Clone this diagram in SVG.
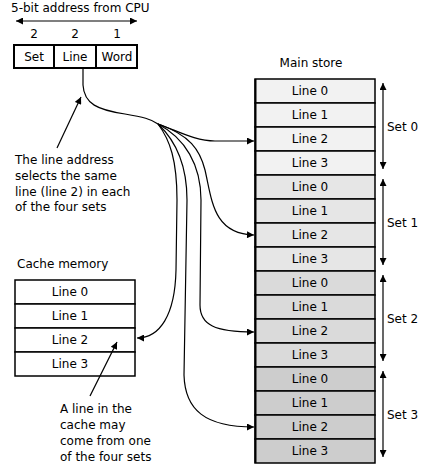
<svg xmlns="http://www.w3.org/2000/svg" width="438" height="475" viewBox="0 0 438 475">
<style>
text{font-family:"DejaVu Sans","Liberation Sans",sans-serif;font-size:12px;fill:#000}
.c{text-anchor:middle}
.cell{stroke:#000;stroke-width:1.5}
.s0{fill:#f2f2f2}.s1{fill:#e6e6e6}.s2{fill:#dadada}.s3{fill:#cdcdcd}
.ln{fill:none;stroke:#000;stroke-width:1.2}
</style>
<defs>
<marker id="ah" viewBox="0 0 10 10" refX="10" refY="5" markerWidth="9" markerHeight="7" markerUnits="userSpaceOnUse" orient="auto-start-reverse">
<path d="M0,0 L10,5 L0,10 Z" fill="#000"/>
</marker>
</defs>
<rect width="438" height="475" fill="#fff"/>

<g id="cpu-address">
<text x="11" y="12">5-bit address from CPU</text>
<line x1="16" y1="21" x2="137" y2="21" stroke="#000" stroke-width="1.2" marker-start="url(#ah)" marker-end="url(#ah)"/>
<text class="c" x="34" y="38">2</text>
<text class="c" x="75" y="38">2</text>
<text class="c" x="117" y="38">1</text>
<rect x="14" y="45" width="123" height="23" fill="#fff" stroke="#000" stroke-width="2"/>
<line x1="54" y1="45" x2="54" y2="68" stroke="#000" stroke-width="2"/>
<line x1="96" y1="45" x2="96" y2="68" stroke="#000" stroke-width="2"/>
<text class="c" x="34" y="61">Set</text>
<text class="c" x="75" y="61">Line</text>
<text class="c" x="117" y="61">Word</text>
</g>

<g id="note-line-address">
<text x="15" y="164">The line address</text>
<text x="15" y="180">selects the same</text>
<text x="15" y="196">line (line 2) in each</text>
<text x="15" y="211">of the four sets</text>
</g>

<g id="cache-memory">
<text x="17" y="268">Cache memory</text>
<rect class="cell" x="15" y="280" width="120" height="24" fill="#fff"/>
<rect class="cell" x="15" y="304" width="120" height="24" fill="#fff"/>
<rect class="cell" x="15" y="328" width="120" height="24" fill="#fff"/>
<rect class="cell" x="15" y="352" width="120" height="24" fill="#fff"/>
<text class="c" x="70" y="296">Line 0</text>
<text class="c" x="70" y="320">Line 1</text>
<text class="c" x="70" y="344">Line 2</text>
<text class="c" x="70" y="368">Line 3</text>
</g>

<g id="note-cache">
<text x="60" y="413">A line in the</text>
<text x="60" y="429">cache may</text>
<text x="60" y="445">come from one</text>
<text x="60" y="461">of the four sets</text>
</g>

<g id="main-store">
<text class="c" x="311" y="67">Main store</text>
<rect class="cell s0" x="255" y="79" width="120" height="24"/>
<rect class="cell s0" x="255" y="103" width="120" height="24"/>
<rect class="cell s0" x="255" y="127" width="120" height="24"/>
<rect class="cell s0" x="255" y="151" width="120" height="24"/>
<rect class="cell s1" x="255" y="175" width="120" height="24"/>
<rect class="cell s1" x="255" y="199" width="120" height="24"/>
<rect class="cell s1" x="255" y="223" width="120" height="24"/>
<rect class="cell s1" x="255" y="247" width="120" height="24"/>
<rect class="cell s2" x="255" y="271" width="120" height="24"/>
<rect class="cell s2" x="255" y="295" width="120" height="24"/>
<rect class="cell s2" x="255" y="319" width="120" height="24"/>
<rect class="cell s2" x="255" y="343" width="120" height="24"/>
<rect class="cell s3" x="255" y="367" width="120" height="24"/>
<rect class="cell s3" x="255" y="391" width="120" height="24"/>
<rect class="cell s3" x="255" y="415" width="120" height="24"/>
<rect class="cell s3" x="255" y="439" width="120" height="24"/>
<line x1="255.5" y1="79" x2="255.5" y2="463" stroke="#000" stroke-width="2"/>
<text class="c" x="310" y="95">Line 0</text>
<text class="c" x="310" y="119">Line 1</text>
<text class="c" x="310" y="143">Line 2</text>
<text class="c" x="310" y="167">Line 3</text>
<text class="c" x="310" y="191">Line 0</text>
<text class="c" x="310" y="215">Line 1</text>
<text class="c" x="310" y="239">Line 2</text>
<text class="c" x="310" y="263">Line 3</text>
<text class="c" x="310" y="287">Line 0</text>
<text class="c" x="310" y="311">Line 1</text>
<text class="c" x="310" y="335">Line 2</text>
<text class="c" x="310" y="359">Line 3</text>
<text class="c" x="310" y="383">Line 0</text>
<text class="c" x="310" y="407">Line 1</text>
<text class="c" x="310" y="431">Line 2</text>
<text class="c" x="310" y="455">Line 3</text>
</g>

<g id="set-labels">
<line x1="383" y1="83" x2="383" y2="169" stroke="#000" stroke-width="1.2" marker-start="url(#ah)" marker-end="url(#ah)"/>
<line x1="383" y1="179" x2="383" y2="265" stroke="#000" stroke-width="1.2" marker-start="url(#ah)" marker-end="url(#ah)"/>
<line x1="383" y1="275" x2="383" y2="361" stroke="#000" stroke-width="1.2" marker-start="url(#ah)" marker-end="url(#ah)"/>
<line x1="383" y1="371" x2="383" y2="457" stroke="#000" stroke-width="1.2" marker-start="url(#ah)" marker-end="url(#ah)"/>
<text x="387" y="131">Set 0</text>
<text x="387" y="227">Set 1</text>
<text x="387" y="323">Set 2</text>
<text x="387" y="419">Set 3</text>
</g>

<g id="connectors">
<path class="ln" d="M83,68 L83,85 C84,104 98,110 125,114 C143,117 151,119 158,124"/>
<path class="ln" marker-end="url(#ah)" d="M158,124 C178,131 195,141 215,141 L254,141"/>
<path class="ln" marker-end="url(#ah)" d="M158,124 C190,135 200,150 205,170 C212,200 213,234 254,235"/>
<path class="ln" marker-end="url(#ah)" d="M158,124 C185,138 201,165 201,200 L200,305 C200,325 215,332 254,332"/>
<path class="ln" marker-end="url(#ah)" d="M158,124 C175,140 187,165 187,200 L184,375 C185,410 205,427 254,427"/>
<path class="ln" marker-end="url(#ah)" d="M158,124 C170,140 177,160 177,200 L176,270 C175,315 160,338 137,338"/>
<line class="ln" x1="57" y1="148" x2="81" y2="97" marker-end="url(#ah)"/>
<line class="ln" x1="90" y1="396" x2="117" y2="342" marker-end="url(#ah)"/>
</g>
</svg>
